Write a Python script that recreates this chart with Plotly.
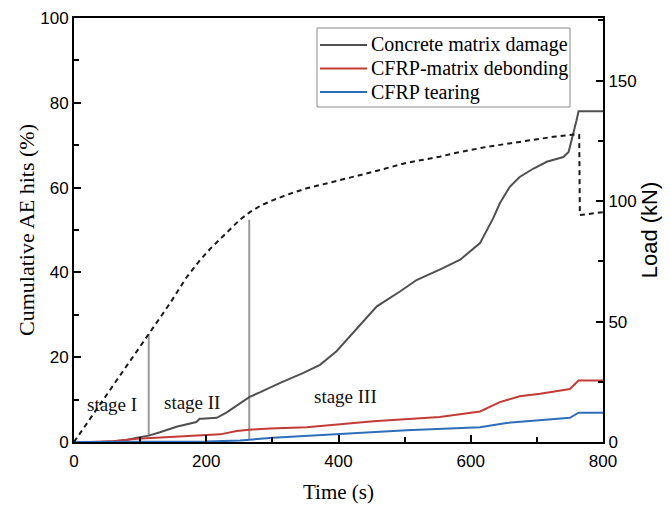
import plotly.graph_objects as go

# ---- data ----
T_CON = [0, 40, 59, 80, 95, 113, 130, 155, 185, 190, 193, 216, 231, 265, 281, 296, 311, 347, 372, 397,
         428, 458, 493, 518, 558, 584, 614, 634, 644, 659, 674, 695, 715, 740, 748, 755, 760, 763, 800]
CON = [0, 0, 0.2, 0.5, 1.0, 1.5, 2.3, 3.6, 4.7, 5.5, 5.5, 5.7, 7.0, 10.6, 11.7, 12.8, 13.9, 16.3, 18.2, 21.4,
       26.9, 32.0, 35.5, 38.2, 41.0, 43.0, 46.9, 52.8, 56.3, 60.2, 62.5, 64.5, 66.1, 67.2, 68.4, 72.4, 75.9, 78.0, 78.0]

T_RED = [0, 24, 60, 95, 145, 196, 221, 246, 265, 296, 352, 453, 553, 614, 644, 674, 705, 750, 763, 800]
RED = [0, 0, 0.2, 0.75, 1.2, 1.5, 1.8, 2.6, 2.9, 3.2, 3.5, 4.9, 5.9, 7.2, 9.4, 10.8, 11.4, 12.5, 14.5, 14.5]

T_BLUE = [0, 150, 200, 251, 301, 402, 503, 614, 654, 750, 763, 800]
BLUE = [0, 0, 0.1, 0.35, 1.0, 1.9, 2.8, 3.5, 4.5, 5.7, 6.9, 6.9]

T_LOAD = [0, 60, 113, 145, 170, 190, 206, 225, 241, 251, 266, 282, 301, 325, 352, 377, 402, 453, 503, 553,
          574, 624, 674, 725, 760, 764, 765, 800]
LOAD = [0, 23.8, 44.8, 57.5, 68.3, 75.3, 80.2, 85.3, 89.3, 92.3, 95.4, 98.1, 100.4, 102.9, 105.3, 107.1,
        108.7, 112.2, 115.9, 118.4, 119.8, 122.5, 124.6, 126.7, 127.7, 127.5, 94.2, 95.4]

STAGE_T = [113, 265]
STAGE_BOTTOM = [1.4, 0.6]
STAGE_TOP = [25.5, 52.4]

STAGE_LABELS = ["stage I", "stage II", "stage III"]
STAGE_LABEL_T = [57, 178, 410]
STAGE_LABEL_Y = [8.8, 9.4, 10.8]

SERIES_NAMES = ["Concrete matrix damage", "CFRP-matrix debonding", "CFRP tearing"]
SERIES_COLORS = ["#505050", "#c23b36", "#2e6db8"]

SERIF = "Liberation Serif, Times New Roman, serif"
SANS = "Liberation Sans, Arial, sans-serif"

# plot-area geometry in pixels (for the hand-built legend)
W, H = 670, 508
ML, MR, MT, MB = 74, 67, 18, 66
PW, PH = W - ML - MR, H - MT - MB


def px_x(px):
    return (px - ML) / PW


def px_y(py):
    return (H - MB - py) / PH


fig = go.Figure()

# stage boundary lines
for t, b, top in zip(STAGE_T, STAGE_BOTTOM, STAGE_TOP):
    fig.add_trace(go.Scatter(x=[t, t], y=[b, top], mode="lines",
                             line=dict(color="#9b9b9b", width=2), showlegend=False, hoverinfo="skip"))

for tx, ty, nm, col in zip([T_CON, T_RED, T_BLUE], [CON, RED, BLUE], SERIES_NAMES, SERIES_COLORS):
    fig.add_trace(go.Scatter(x=tx, y=ty, mode="lines", name=nm, showlegend=False,
                             line=dict(color=col, width=2)))

fig.add_trace(go.Scatter(x=T_LOAD, y=LOAD, mode="lines", yaxis="y2", showlegend=False,
                         line=dict(color="#1a1a1a", width=2, dash="5px,4px")))

for lab, t, y in zip(STAGE_LABELS, STAGE_LABEL_T, STAGE_LABEL_Y):
    fig.add_annotation(x=t, y=y, xref="x", yref="y", text=lab, showarrow=False,
                       font=dict(family=SERIF, size=19, color="#111"))

# legend box (hand-built to match spacing)
fig.add_shape(type="rect", xref="paper", yref="paper",
              x0=px_x(317), x1=px_x(570), y0=px_y(107), y1=px_y(28),
              line=dict(color="#8a8a8a", width=1), fillcolor="white", layer="above")
for i, (nm, col) in enumerate(zip(SERIES_NAMES, SERIES_COLORS)):
    ry = 45 + i * 23.5
    fig.add_shape(type="line", xref="paper", yref="paper",
                  x0=px_x(320), x1=px_x(367), y0=px_y(ry), y1=px_y(ry),
                  line=dict(color=col, width=2), layer="above")
    fig.add_annotation(x=px_x(369), y=px_y(ry), xref="paper", yref="paper", text=nm,
                       showarrow=False, xanchor="left", yanchor="middle",
                       font=dict(family=SERIF, size=20, color="black"))

axis_common = dict(showline=True, linecolor="black", linewidth=2, ticks="inside",
                   tickcolor="black", tickwidth=1.5, ticklen=7, showgrid=False, zeroline=False,
                   automargin=False,
                   tickfont=dict(family=SANS, size=17, color="black"))

fig.update_layout(
    width=W, height=H,
    margin=dict(l=ML, r=MR, t=MT, b=MB),
    paper_bgcolor="white", plot_bgcolor="white",
    xaxis=dict(range=[0, 800], dtick=200, mirror=True, ticklabelstandoff=3,
               minor=dict(dtick=100, ticks="inside", ticklen=5, tickcolor="black", tickwidth=1.5),
               title=dict(text="Time (s)", font=dict(family=SERIF, size=21, color="black"), standoff=14),
               **axis_common),
    yaxis=dict(range=[0, 100], dtick=20,
               minor=dict(dtick=10, ticks="inside", ticklen=5, tickcolor="black", tickwidth=1.5),
               title=dict(text="Cumulative AE hits (%)", font=dict(family=SERIF, size=22, color="black"), standoff=0),
               **axis_common),
    yaxis2=dict(range=[0, 176], dtick=50, overlaying="y", side="right",
                minor=dict(dtick=25, ticks="inside", ticklen=5, tickcolor="black", tickwidth=1.5),
                title=dict(text="Load (kN)", font=dict(family=SANS, size=22, color="black"), standoff=5),
                **axis_common),
    showlegend=False,
)

fig.write_html("out.html")
